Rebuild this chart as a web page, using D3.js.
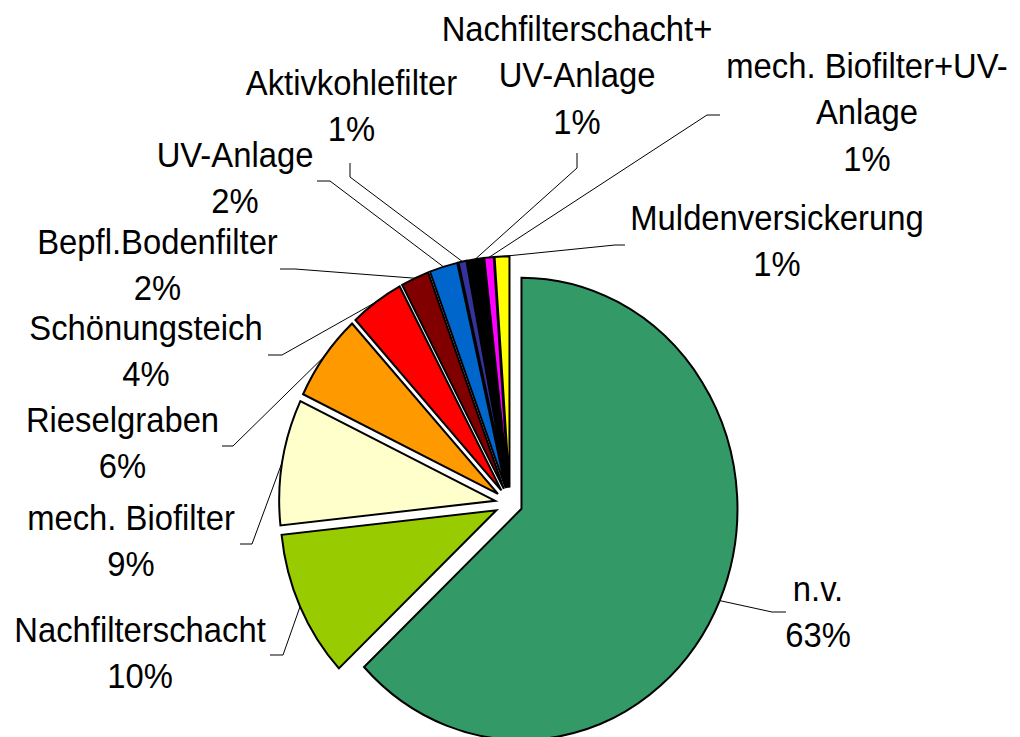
<!DOCTYPE html>
<html>
<head>
<meta charset="utf-8">
<script src="https://cdn.jsdelivr.net/npm/d3@7/dist/d3.min.js"></script>
<style>
  html, body { margin: 0; padding: 0; background: #fff; }
  svg { display: block; }
  text { font-family: "Liberation Sans", Arial, sans-serif; fill: #000; }
</style>
</head>
<body>
<svg id="chart" width="1020" height="737"></svg>
<script>
// Shares of treatment types (percent)
const categories = [
  "n.v.", "Nachfilterschacht", "mech. Biofilter", "Rieselgraben", "Schönungsteich",
  "Bepfl.Bodenfilter", "UV-Anlage", "Aktivkohlefilter", "Nachfilterschacht+UV-Anlage",
  "mech. Biofilter+UV-Anlage", "Muldenversickerung"
];
const values = [63.0, 10.3, 8.8, 6.1, 4.0, 2.1, 2.1, 0.6, 1.2, 0.7, 1.1];
const colors = [
  "#339966", "#99CC00", "#FFFFCC", "#FF9900", "#FF0000",
  "#800000", "#0066CC", "#333399", "#000000", "#FF00FF", "#FFFF00"
];

// Label line breaks
const labelLines = {
  "Nachfilterschacht+UV-Anlage": ["Nachfilterschacht+", "UV-Anlage"],
  "mech. Biofilter+UV-Anlage": ["mech. Biofilter+UV-", "Anlage"]
};

// Layout: label anchor (centre x, first baseline) and leader elbow/end points
const layout = {
  "n.v.":                         { label: [818, 601],   elbow: [772, 612], end: [786, 612] },
  "Nachfilterschacht":            { label: [140, 642],   elbow: [283, 655], end: [270, 655] },
  "mech. Biofilter":              { label: [131, 530],   elbow: [252, 544], end: [240, 544] },
  "Rieselgraben":                 { label: [122.5, 432], elbow: [233, 446], end: [222, 446] },
  "Schönungsteich":               { label: [146, 340],   elbow: [282, 355], end: [268, 355] },
  "Bepfl.Bodenfilter":            { label: [157.5, 254], elbow: [295, 269], end: [280, 269] },
  "UV-Anlage":                    { label: [235, 167],   elbow: [330, 181], end: [317, 181] },
  "Aktivkohlefilter":             { label: [351.5, 95],  elbow: [350, 177], end: [350, 163] },
  "Nachfilterschacht+UV-Anlage":  { label: [577, 41],    elbow: [577, 168], end: [577, 153] },
  "mech. Biofilter+UV-Anlage":    { label: [867, 78],    elbow: [707, 115], end: [720, 115] },
  "Muldenversickerung":           { label: [777, 230],   elbow: [615, 245], end: [625, 245] }
};

const cx = 510, cy = 503.5;   // pie centre
const radius = 216;
const stretchY = 1.07;        // vertical stretch of the drawing
const explodeMain = 12.5, explodeRest = 15;
const fontSize = 32.8, lineStep = 46.5;

const data = categories.map((c, i) => ({ name: c, value: values[i], color: colors[i] }));

const pie = d3.pie().value(d => d.value).sort(null);
const arcs = pie(data);
const arc = d3.arc().innerRadius(0).outerRadius(radius);

const svg = d3.select("#chart");
svg.append("rect").attr("width", 1020).attr("height", 737).attr("fill", "#fff");

const explodeOf = i => (i === 0 ? explodeMain : explodeRest);
const midAngle = a => (a.startAngle + a.endAngle) / 2;

// Slices
const pieG = svg.append("g")
  .attr("transform", `translate(${cx},${cy}) scale(1,${stretchY})`);

pieG.selectAll("path")
  .data(arcs)
  .join("path")
  .attr("transform", (a, i) => {
    const m = midAngle(a), e = explodeOf(i);
    return `translate(${e * Math.sin(m)},${-e * Math.cos(m)})`;
  })
  .attr("d", arc)
  .attr("fill", a => a.data.color)
  .attr("stroke", "#000")
  .attr("stroke-width", 2)
  .attr("stroke-linejoin", "miter")
  .attr("vector-effect", "non-scaling-stroke");

// Leader lines from the outer arc to each label
const arcPoint = (a, i) => {
  const m = midAngle(a), r = radius + explodeOf(i);
  return [cx + r * Math.sin(m), cy - stretchY * r * Math.cos(m)];
};

svg.append("g")
  .selectAll("polyline")
  .data(arcs)
  .join("polyline")
  .attr("points", (a, i) => {
    const L = layout[a.data.name];
    return [arcPoint(a, i), L.elbow, L.end].map(p => p.join(",")).join(" ");
  })
  .attr("fill", "none")
  .attr("stroke", "#000")
  .attr("stroke-width", 1);

// Labels: name and rounded percentage
const labels = svg.append("g")
  .selectAll("text")
  .data(arcs)
  .join("text")
  .attr("transform", a => {
    const p = layout[a.data.name].label;
    return `translate(${p[0]},${p[1]}) scale(1,${stretchY})`;
  })
  .attr("text-anchor", "middle")
  .style("font-size", fontSize + "px");

labels.each(function (a) {
  const lines = (labelLines[a.data.name] || [a.data.name])
    .concat([Math.round(a.data.value) + "%"]);
  d3.select(this).selectAll("tspan")
    .data(lines)
    .join("tspan")
    .attr("x", 0)
    .attr("y", (d, k) => k * lineStep / stretchY)
    .text(d => d);
});
</script>
</body>
</html>
